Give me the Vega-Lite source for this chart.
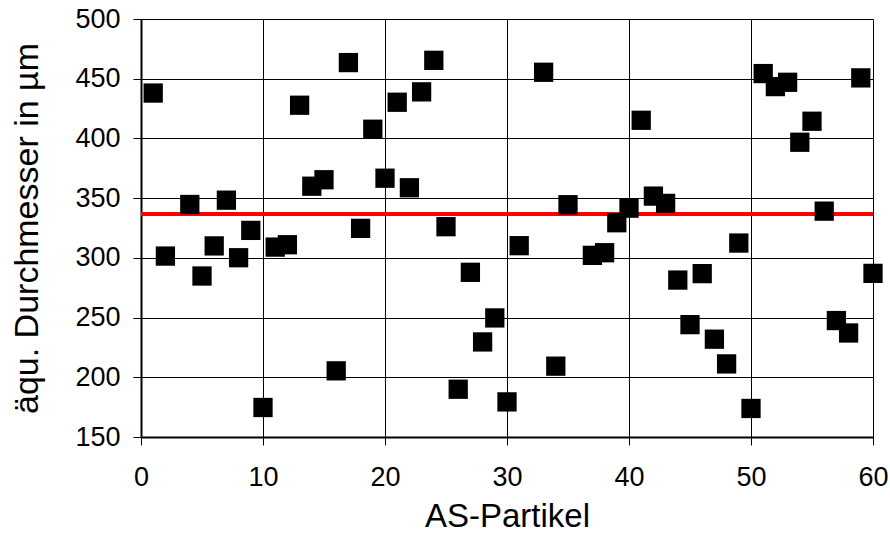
{
  "$schema": "https://vega.github.io/schema/vega-lite/v6.json",
  "width": 732,
  "height": 418,
  "autosize": "none",
  "padding": {"left": 141, "top": 19, "right": 17, "bottom": 98},
  "background": "white",
  "config": {
    "view": {"stroke": null},
    "font": "Liberation Sans",
    "axis": {"labelFont": "Liberation Sans", "titleFont": "Liberation Sans", "labelColor": "black", "titleColor": "black", "titleFontWeight": "normal", "labelFlush": false, "labelOverlap": false, "labelBound": false}
  },
  "data": {"values": [
    {"n": 1, "d": 438}, {"n": 2, "d": 301.5}, {"n": 4, "d": 344.7}, {"n": 5, "d": 284.8},
    {"n": 6, "d": 310}, {"n": 7, "d": 348.3}, {"n": 8, "d": 300.1}, {"n": 9, "d": 323},
    {"n": 10, "d": 174.7}, {"n": 11, "d": 309}, {"n": 12, "d": 311}, {"n": 13, "d": 427.8},
    {"n": 14, "d": 360}, {"n": 15, "d": 365.4}, {"n": 16, "d": 205.4}, {"n": 17, "d": 463.5},
    {"n": 18, "d": 324.7}, {"n": 19, "d": 407.7}, {"n": 20, "d": 366.7}, {"n": 21, "d": 430.3},
    {"n": 22, "d": 358.7}, {"n": 23, "d": 439}, {"n": 24, "d": 465.4}, {"n": 25, "d": 326.1},
    {"n": 26, "d": 190}, {"n": 27, "d": 287.9}, {"n": 28, "d": 229.6}, {"n": 29, "d": 249.7},
    {"n": 30, "d": 179.4}, {"n": 31, "d": 310.2}, {"n": 33, "d": 455.4}, {"n": 34, "d": 209.3},
    {"n": 35, "d": 344.5}, {"n": 37, "d": 302.1}, {"n": 38, "d": 304.3}, {"n": 39, "d": 329.4},
    {"n": 40, "d": 341.6}, {"n": 41, "d": 415.2}, {"n": 42, "d": 351.7}, {"n": 43, "d": 345.6},
    {"n": 44, "d": 281.4}, {"n": 45, "d": 244.1}, {"n": 46, "d": 286.8}, {"n": 47, "d": 231.9},
    {"n": 48, "d": 211.2}, {"n": 49, "d": 312.4}, {"n": 50, "d": 173.9}, {"n": 51, "d": 454.3},
    {"n": 52, "d": 443.4}, {"n": 53, "d": 447}, {"n": 54, "d": 396.8}, {"n": 55, "d": 414.4},
    {"n": 56, "d": 339.1}, {"n": 57, "d": 247.5}, {"n": 58, "d": 237.1}, {"n": 59, "d": 450.7},
    {"n": 60, "d": 287}
  ]},
  "layer": [
    {
      "mark": {"type": "rule", "color": "#ff0000", "strokeWidth": 3},
      "encoding": {"y": {"datum": 337, "type": "quantitative", "scale": {"domain": [150, 500]}}}
    },
    {
      "mark": {"type": "point", "shape": "square", "filled": true, "color": "black", "opacity": 1, "size": 372},
      "encoding": {
        "x": {
          "field": "n", "type": "quantitative",
          "scale": {"domain": [0, 60], "nice": false, "zero": false},
          "axis": {
            "values": [0, 10, 20, 30, 40, 50, 60],
            "title": "AS-Partikel", "titleFontSize": 33, "titlePadding": 10,
            "labelFontSize": 27, "labelPadding": 19,
            "tickSize": 8, "tickColor": "black", "tickWidth": 1,
            "domainColor": "black", "domainWidth": 2,
            "grid": true, "gridColor": "black", "gridWidth": 1, "gridOpacity": 1
          }
        },
        "y": {
          "field": "d", "type": "quantitative",
          "scale": {"domain": [150, 500], "nice": false, "zero": false},
          "axis": {
            "values": [150, 200, 250, 300, 350, 400, 450, 500],
            "title": "äqu. Durchmesser in µm", "titleFontSize": 34, "titlePadding": 30,
            "labelFontSize": 27, "labelPadding": 13,
            "tickSize": 8, "tickColor": "black", "tickWidth": 1,
            "domainColor": "black", "domainWidth": 2,
            "grid": true, "gridColor": "black", "gridWidth": 1, "gridOpacity": 1
          }
        }
      }
    }
  ]
}
